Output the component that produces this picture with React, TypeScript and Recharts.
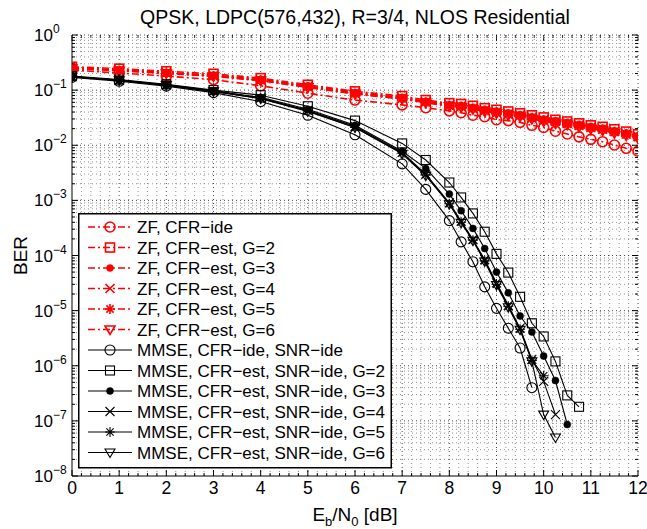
import React from 'react';
import { LineChart, Line, XAxis, YAxis, ReferenceLine } from 'recharts';

const FONT = '"Liberation Sans", Arial, Helvetica, sans-serif';
const W = 647;
const H = 529;
const PLOT_LEFT = 72;
const PLOT_RIGHT = 638;
const PLOT_TOP = 35;
const PLOT_BOTTOM = 476;

// x positions (Eb/N0, dB)
const ZF_X = [0, 1, 2, 3, 4, 5, 6, 7, 7.5, 8, 8.25, 8.5, 8.75, 9, 9.25, 9.5, 9.75, 10, 10.25, 10.5, 10.75, 11, 11.25, 11.5, 11.75, 12];
const MMSE_X = [0, 1, 2, 3, 4, 5, 6, 7, 7.5, 8, 8.25, 8.5, 8.75, 9, 9.25, 9.5, 9.75, 10, 10.25, 10.5, 10.75];

// ZF curves
const zfIde = [0.23, 0.205, 0.18, 0.155, 0.12, 0.088, 0.066, 0.054, 0.048, 0.042, 0.039, 0.035, 0.033, 0.029, 0.028, 0.026, 0.023, 0.021, 0.018, 0.016, 0.0142, 0.0128, 0.0116, 0.0101, 0.0088, 0.0078];
const zfG2 = [0.265, 0.245, 0.22, 0.198, 0.165, 0.125, 0.095, 0.078, 0.066, 0.058, 0.056, 0.052, 0.047, 0.044, 0.041, 0.038, 0.035, 0.032, 0.029, 0.027, 0.025, 0.023, 0.0216, 0.0195, 0.0177, 0.0158];
const zfG3 = [0.255, 0.235, 0.21, 0.188, 0.158, 0.12, 0.091, 0.074, 0.063, 0.055, 0.053, 0.049, 0.045, 0.042, 0.039, 0.036, 0.033, 0.03, 0.028, 0.026, 0.024, 0.022, 0.0205, 0.0185, 0.0168, 0.015];
const zfG4 = [0.25, 0.23, 0.205, 0.183, 0.153, 0.116, 0.088, 0.072, 0.061, 0.053, 0.051, 0.047, 0.043, 0.04, 0.037, 0.035, 0.032, 0.029, 0.027, 0.025, 0.023, 0.021, 0.0196, 0.0178, 0.016, 0.0143];
const zfG5 = [0.248, 0.228, 0.203, 0.18, 0.15, 0.114, 0.086, 0.07, 0.06, 0.052, 0.05, 0.046, 0.042, 0.039, 0.036, 0.034, 0.031, 0.028, 0.026, 0.0243, 0.0223, 0.0204, 0.019, 0.0172, 0.0155, 0.0138];
const zfG6 = [0.245, 0.225, 0.2, 0.178, 0.148, 0.112, 0.085, 0.069, 0.059, 0.051, 0.049, 0.045, 0.041, 0.038, 0.035, 0.033, 0.03, 0.027, 0.025, 0.0235, 0.0216, 0.0198, 0.0184, 0.0166, 0.015, 0.0133];

// MMSE curves (end where the simulation stopped)
const mmseIde = [0.17, 0.145, 0.118, 0.09, 0.062, 0.035, 0.0155, 0.0046, 0.00158, 0.00043, 0.000177, 7.7e-5, 2.7e-5, 1.1e-5, 4.8e-6, 2.1e-6, 4.0e-7];
const mmseG2 = [0.18, 0.155, 0.128, 0.1, 0.081, 0.051, 0.028, 0.0108, 0.0054, 0.00211, 0.00113, 0.00058, 0.00027, 1.07e-4, 4.9e-5, 1.78e-5, 5.9e-6, 3.4e-6, 1.2e-6, 2.9e-7, 1.8e-7];
const mmseG3 = [0.177, 0.152, 0.125, 0.097, 0.074, 0.045, 0.023, 0.0078, 0.0038, 0.0013, 0.00065, 0.00031, 0.000134, 5e-5, 2.1e-5, 8e-6, 4.1e-6, 1.5e-6, 5.4e-7, 8.6e-8];
const mmseG4 = [0.176, 0.151, 0.124, 0.096, 0.072, 0.043, 0.022, 0.0074, 0.003, 0.0009, 0.00042, 0.000195, 8.4e-5, 3.2e-5, 1.25e-5, 4.8e-6, 1.3e-6, 5.2e-7, 1.3e-7];
const mmseG5 = [0.175, 0.15, 0.123, 0.095, 0.071, 0.042, 0.021, 0.0072, 0.0029, 0.00087, 0.0004, 0.00019, 8e-5, 3.0e-5, 1.2e-5, 4.6e-6, 1.25e-6, 6.6e-7];
const mmseG6 = [0.175, 0.15, 0.123, 0.095, 0.07, 0.041, 0.021, 0.007, 0.0028, 0.00085, 0.00039, 0.000185, 7.8e-5, 2.9e-5, 1.15e-5, 4.5e-6, 1.2e-6, 1.3e-7, 5e-8];

const X_MAJOR = [0, 1, 2, 3, 4, 5, 6, 7, 8, 9, 10, 11, 12];
const X_MINOR = X_MAJOR.slice(0, -1).flatMap(v => [0.2, 0.4, 0.6, 0.8].map(f => Math.round((v + f) * 10) / 10));
const Y_EXP = [-8, -7, -6, -5, -4, -3, -2, -1, 0];
const Y_MAJOR = Y_EXP.map(e => Math.pow(10, e));
const Y_MINOR = Y_EXP.slice(0, -1).flatMap(e => [2, 3, 4, 5, 6, 7, 8, 9].map(m => m * Math.pow(10, e)));

const RED = '#ff0000';
const BLACK = '#000000';
const DASHDOT = '7 3 2 3';

type MarkerType = 'o' | 's' | '.' | 'x' | '*' | 'v';

const zip = (xs: number[], ys: number[]) => ys.map((y, i) => ({ x: xs[i], y }));

const SERIES: { key: string; name: string; color: string; dash?: string; marker: MarkerType; width: number; data: { x: number; y: number }[] }[] = [
  { key: 'zf1', name: 'ZF, CFR\u2212ide', color: RED, dash: DASHDOT, marker: 'o', width: 1.6, data: zip(ZF_X, zfIde) },
  { key: 'zf2', name: 'ZF, CFR\u2212est, G=2', color: RED, dash: DASHDOT, marker: 's', width: 1.6, data: zip(ZF_X, zfG2) },
  { key: 'zf3', name: 'ZF, CFR\u2212est, G=3', color: RED, dash: DASHDOT, marker: '.', width: 1.6, data: zip(ZF_X, zfG3) },
  { key: 'zf4', name: 'ZF, CFR\u2212est, G=4', color: RED, dash: DASHDOT, marker: 'x', width: 1.6, data: zip(ZF_X, zfG4) },
  { key: 'zf5', name: 'ZF, CFR\u2212est, G=5', color: RED, dash: DASHDOT, marker: '*', width: 1.6, data: zip(ZF_X, zfG5) },
  { key: 'zf6', name: 'ZF, CFR\u2212est, G=6', color: RED, dash: DASHDOT, marker: 'v', width: 1.6, data: zip(ZF_X, zfG6) },
  { key: 'mm1', name: 'MMSE, CFR\u2212ide, SNR\u2212ide', color: BLACK, marker: 'o', width: 1.1, data: zip(MMSE_X, mmseIde) },
  { key: 'mm2', name: 'MMSE, CFR\u2212est, SNR\u2212ide, G=2', color: BLACK, marker: 's', width: 1.1, data: zip(MMSE_X, mmseG2) },
  { key: 'mm3', name: 'MMSE, CFR\u2212est, SNR\u2212ide, G=3', color: BLACK, marker: '.', width: 1.1, data: zip(MMSE_X, mmseG3) },
  { key: 'mm4', name: 'MMSE, CFR\u2212est, SNR\u2212ide, G=4', color: BLACK, marker: 'x', width: 1.1, data: zip(MMSE_X, mmseG4) },
  { key: 'mm5', name: 'MMSE, CFR\u2212est, SNR\u2212ide, G=5', color: BLACK, marker: '*', width: 1.1, data: zip(MMSE_X, mmseG5) },
  { key: 'mm6', name: 'MMSE, CFR\u2212est, SNR\u2212ide, G=6', color: BLACK, marker: 'v', width: 1.1, data: zip(MMSE_X, mmseG6) },
];

const Marker = ({ cx, cy, type, color, sw }: { cx: number; cy: number; type: MarkerType; color: string; sw: number }) => {
  if (cx == null || cy == null || isNaN(cx) || isNaN(cy)) return null;
  const p = { stroke: color, strokeWidth: sw, fill: 'none' };
  switch (type) {
    case 'o':
      return <circle cx={cx} cy={cy} r={5} {...p} />;
    case 's':
      return <rect x={cx - 4.5} y={cy - 4.5} width={9} height={9} {...p} />;
    case '.':
      return <circle cx={cx} cy={cy} r={3.5} fill={color} stroke={color} strokeWidth={0.5} />;
    case 'x':
      return <path d={`M${cx - 4.5},${cy - 4.5}L${cx + 4.5},${cy + 4.5}M${cx - 4.5},${cy + 4.5}L${cx + 4.5},${cy - 4.5}`} {...p} />;
    case '*':
      return <path d={`M${cx - 5},${cy}L${cx + 5},${cy}M${cx},${cy - 5}L${cx},${cy + 5}M${cx - 3.6},${cy - 3.6}L${cx + 3.6},${cy + 3.6}M${cx - 3.6},${cy + 3.6}L${cx + 3.6},${cy - 3.6}`} {...p} />;
    case 'v':
      return <path d={`M${cx - 5},${cy - 3.5}L${cx + 5},${cy - 3.5}L${cx},${cy + 5}Z`} {...p} />;
  }
  return null;
};

const isDecade = (v: number) => Math.abs(Math.log10(v) - Math.round(Math.log10(v))) < 1e-6;

const YTick = (props: any) => {
  const { y, payload } = props;
  const v = payload.value;
  const major = isDecade(v);
  const len = major ? 6 : 3;
  const e = Math.round(Math.log10(v));
  return (
    <g>
      <line x1={PLOT_LEFT} x2={PLOT_LEFT + len} y1={y} y2={y} stroke="#000" strokeWidth={1} />
      <line x1={PLOT_RIGHT - len} x2={PLOT_RIGHT} y1={y} y2={y} stroke="#000" strokeWidth={1} />
      {major && (
        <text x={34} y={y} dy="0.36em" fontSize={17} fontFamily={FONT} fill="#000">
          10
          <tspan dy={-8} fontSize={12}>{e < 0 ? `\u2212${-e}` : `${e}`}</tspan>
        </text>
      )}
    </g>
  );
};

const XTick = (props: any) => {
  const { x, payload } = props;
  const v = payload.value;
  const major = Math.abs(v - Math.round(v)) < 1e-6;
  const len = major ? 6 : 3;
  return (
    <g>
      <line x1={x} x2={x} y1={PLOT_BOTTOM} y2={PLOT_BOTTOM - len} stroke="#000" strokeWidth={1} />
      <line x1={x} x2={x} y1={PLOT_TOP} y2={PLOT_TOP + len} stroke="#000" strokeWidth={0.8} />
      {major && (
        <text x={x} y={PLOT_BOTTOM + 17.5} textAnchor="middle" fontSize={17.5} fontFamily={FONT} fill="#000">
          {Math.round(v)}
        </text>
      )}
    </g>
  );
};

const LegendBox = () => {
  const rowH = 20.5;
  return (
    <svg width={314} height={256} style={{ position: 'absolute', left: 78, top: 213 }}>
      <rect x={0.75} y={0.75} width={312.5} height={254} fill="#fff" stroke="#000" strokeWidth={1.5} />
      {SERIES.map((s, i) => {
        const cy = 14 + i * rowH;
        return (
          <g key={s.key}>
            <line x1={10} x2={54} y1={cy} y2={cy} stroke={s.color} strokeWidth={s.width} strokeDasharray={s.dash} />
            <Marker cx={32} cy={cy} type={s.marker} color={s.color} sw={s.width} />
            <text x={59} y={cy} dy="0.36em" fontSize={17} fontFamily={FONT} fill="#000">{s.name}</text>
          </g>
        );
      })}
    </svg>
  );
};

export default function App() {
  const xTicks = [...X_MAJOR, ...X_MINOR].sort((a, b) => a - b);
  const yTicks = [...Y_MAJOR, ...Y_MINOR].sort((a, b) => a - b);
  const gridMajor = { stroke: '#333', strokeDasharray: '1 3', strokeWidth: 0.9 };
  const gridMinor = { stroke: '#777', strokeDasharray: '1 3', strokeWidth: 0.8 };
  return (
    <div style={{ position: 'absolute', left: 0, top: 0, width: W, height: H, background: '#fff', fontFamily: FONT }}>
      <LineChart width={W} height={H} margin={{ top: PLOT_TOP, right: W - PLOT_RIGHT, bottom: 0, left: 0 }}>
        <XAxis
          type="number"
          dataKey="x"
          domain={[0, 12]}
          ticks={xTicks}
          interval={0}
          allowDataOverflow
          height={H - PLOT_BOTTOM}
          axisLine={{ stroke: '#000', strokeWidth: 1 }}
          tickLine={false}
          tick={<XTick />}
        />
        <YAxis
          type="number"
          dataKey="y"
          scale="log"
          domain={[1e-8, 1]}
          ticks={yTicks}
          interval={0}
          allowDataOverflow
          width={PLOT_LEFT}
          axisLine={{ stroke: '#000', strokeWidth: 1 }}
          tickLine={false}
          tick={<YTick />}
        />
        {X_MINOR.map(v => (
          <ReferenceLine key={`vx${v}`} x={v} {...gridMinor} />
        ))}
        {Y_MINOR.map(v => (
          <ReferenceLine key={`hy${v}`} y={v} {...gridMinor} />
        ))}
        {X_MAJOR.slice(1).map(v => (
          <ReferenceLine key={`VX${v}`} x={v} {...gridMajor} />
        ))}
        {Y_MAJOR.slice(1).map(v => (
          <ReferenceLine key={`HY${v}`} y={v} {...gridMajor} />
        ))}
        {SERIES.map(s => (
          <Line
            key={s.key}
            data={s.data}
            dataKey="y"
            type="linear"
            stroke={s.color}
            strokeWidth={s.width}
            strokeDasharray={s.dash}
            isAnimationActive={false}
            activeDot={false}
            legendType="none"
            dot={(p: any) => <Marker key={`${s.key}-${p.index}`} cx={p.cx} cy={p.cy} type={s.marker} color={s.color} sw={s.width} />}
          />
        ))}
      </LineChart>
      <svg width={W} height={H} style={{ position: 'absolute', left: 0, top: 0, pointerEvents: 'none' }}>
        <text x={(PLOT_LEFT + PLOT_RIGHT) / 2} y={24} textAnchor="middle" fontSize={19.5} fontFamily={FONT} fill="#000">
          QPSK, LDPC(576,432), R=3/4, NLOS Residential
        </text>
        <text x={27} y={(PLOT_TOP + PLOT_BOTTOM) / 2} transform={`rotate(-90 27 ${(PLOT_TOP + PLOT_BOTTOM) / 2})`} textAnchor="middle" fontSize={19} fontFamily={FONT} fill="#000">
          BER
        </text>
        <text x={(PLOT_LEFT + PLOT_RIGHT) / 2} y={521} textAnchor="middle" fontSize={19} fontFamily={FONT} fill="#000">
          E<tspan fontSize={13} dy={5}>b</tspan>
          <tspan dy={-5}>/N</tspan>
          <tspan fontSize={13} dy={5}>0</tspan>
          <tspan dy={-5}> [dB]</tspan>
        </text>
      </svg>
      <LegendBox />
    </div>
  );
}
